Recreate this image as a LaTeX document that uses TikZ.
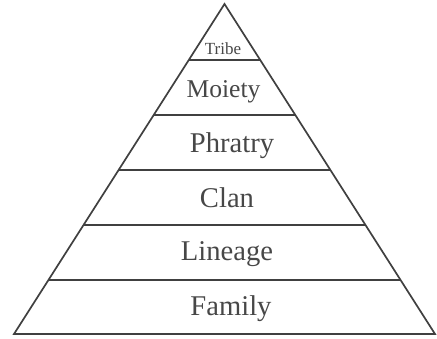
\documentclass[tikz,border=0pt]{standalone}
\usepackage{fontspec}
\setmainfont{Liberation Serif}
\usetikzlibrary{calc}
\tikzset{
  layer/.style={line width=0.85pt,draw=black!75},
  lbl/.style={anchor=base,text=black!72,inner sep=0pt,font=\fontsize{14.3}{17}\selectfont}
}

\begin{document}
\begin{tikzpicture}[x=0.5pt,y=-0.5pt]
  \useasboundingbox (0,0) rectangle (437,338);
  \coordinate (apex) at (224.5,4);
  \coordinate (bl) at (14,334);
  \coordinate (br) at (435,334);
  \draw[layer,line join=miter] (bl)--(apex)--(br)--cycle;
  % dividing lines
  \foreach \y [count=\i] in {60,115,170,225,280}{
    \pgfmathsetmacro{\pos}{(\y-4)/330}
    \coordinate (l\i) at ($(apex)!\pos!(bl)$);
    \coordinate (r\i) at ($(apex)!\pos!(br)$);
    \draw[layer] (l\i)--(r\i);
  }
  % levels
  \node[lbl,font=\fontsize{8.5}{10}\selectfont] (tribe) at (223,54) {Tribe};
  \node[lbl,font=\fontsize{12.8}{15}\selectfont] (moiety) at (223.5,97) {Moiety};
  \node[lbl] (phratry) at (232,152) {Phratry};
  \node[lbl] (clan) at (227,207) {Clan};
  \node[lbl] (lineage) at (227,260) {Lineage};
  \node[lbl] (family) at (231,315) {Family};
\end{tikzpicture}
\end{document}
